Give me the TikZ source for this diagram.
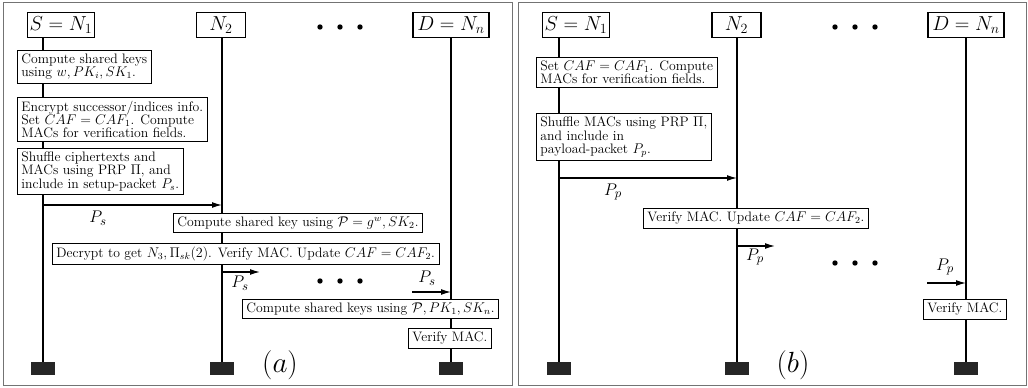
\documentclass[tikz,border=0pt]{standalone}
\usetikzlibrary{arrows.meta}
\begin{document}
\begin{tikzpicture}[x=0.03cm,y=-0.03cm,
    frame/.style={draw=black!55,line width=0.8pt},
    hdr/.style={draw,line width=1pt,fill=white,inner xsep=1.8pt,inner ysep=3.2pt,font=\fontsize{17}{17}\selectfont},
    act/.style={draw,line width=0.6pt,fill=white,align=left,anchor=north west,inner xsep=3.5pt,inner ysep=3pt,font=\fontsize{11.7}{11.4}\selectfont},
    foot/.style={fill=black!85,minimum width=21.3pt,minimum height=11.1pt,inner sep=0pt},
    life/.style={line width=1.4pt},
    msg/.style={line width=1pt,-{Latex[length=8.5pt,width=5pt]}},
    lbl/.style={inner sep=0pt,font=\fontsize{15}{15}\selectfont},
    subcap/.style={inner sep=0pt,font=\fontsize{23}{23}\selectfont}]
    \useasboundingbox (0,0) rectangle (1028,387);

    % Rahmen
    \draw[frame] (3,2) rectangle (512,385);
    \draw[frame] (518,2) rectangle (1026,385);

    % (a): Knoten und Lebenslinien
    \node[hdr] (hSa) at (61,25) {$S=N_1$};
    \node[hdr,minimum width=41.8pt] (hNa) at (221,25) {$N_2$};
    \node[hdr,minimum width=64.9pt] (hDa) at (451,25) {$D=N_n$};
    \node[foot] (fSa) at (43,368.5) {};
    \node[foot] (fNa) at (222,368.5) {};
    \node[foot] (fDa) at (451,368.5) {};
    \draw[life] (fSa) -- (fSa |- hSa.south);
    \draw[life] (fNa) -- (fNa |- hNa.south);
    \draw[life] (fDa) -- (fDa |- hDa.south);
    \foreach \x in {320,340,360} \fill (\x,27) circle (2.3pt);

    % (a): Schritte
    \node[act] (a1) at (17,50) {Compute shared keys\\ using $w,PK_i,SK_1$.};
    \node[act] (a2) at (17,97) {Encrypt successor/indices info.\\ Set $CAF=CAF_1$. Compute\\ MACs for verification fields.};
    \node[act] (a3) at (17,148) {Shuffle ciphertexts and\\ MACs using PRP $\Pi$, and\\ include in setup-packet $P_s$.};
    \coordinate (ma1) at (43,205);
    \coordinate (ma2) at (222,205);
    \draw[msg] (ma1) -- (ma2);
    \node[lbl] (pa1) at (98,218) {$P_s$};
    \node[act] (a4) at (173,213) {Compute shared key using $\mathcal{P}=g^w,SK_2$.};
    \node[act] (a5) at (52,243) {Decrypt to get $N_3,\Pi_{sk}(2)$. Verify MAC. Update $CAF=CAF_2$.};
    \coordinate (ma3) at (222,272);
    \coordinate (ma4) at (260,272);
    \draw[msg] (ma3) -- (ma4);
    \node[lbl] (pa2) at (240,283) {$P_s$};
    \foreach \x in {320,340,360} \fill (\x,281) circle (2.3pt);
    \coordinate (ma5) at (412,292);
    \coordinate (ma6) at (451,292);
    \draw[msg] (ma5) -- (ma6);
    \node[lbl] (pa3) at (427,278) {$P_s$};
    \node[act] (a6) at (242,299) {Compute shared keys using $\mathcal{P},PK_1,SK_n$.};
    \node[act] (a7) at (408,328) {Verify MAC.};
    \node[subcap] (capa) at (280,365) {$(a)$};

    % (b): Knoten und Lebenslinien
    \node[hdr] (hSb) at (576,25) {$S=N_1$};
    \node[hdr,minimum width=41.8pt] (hNb) at (736.5,25) {$N_2$};
    \node[hdr,minimum width=64.9pt] (hDb) at (966,25) {$D=N_n$};
    \node[foot] (fSb) at (559,368.5) {};
    \node[foot] (fNb) at (737,368.5) {};
    \node[foot] (fDb) at (966,368.5) {};
    \draw[life] (fSb) -- (fSb |- hSb.south);
    \draw[life] (fNb) -- (fNb |- hNb.south);
    \draw[life] (fDb) -- (fDb |- hDb.south);
    \foreach \x in {835,855,875} \fill (\x,27) circle (2.3pt);

    % (b): Schritte
    \node[act] (b1) at (536,57) {Set $CAF=CAF_1$. Compute\\ MACs for verification fields.};
    \node[act] (b2) at (536,113) {Shuffle MACs using PRP $\Pi$,\\ and include in\\ payload-packet $P_p$.};
    \coordinate (mb1) at (559,178);
    \coordinate (mb2) at (737,178);
    \draw[msg] (mb1) -- (mb2);
    \node[lbl] (pb1) at (613,192) {$P_p$};
    \node[act] (b3) at (643,208) {Verify MAC. Update $CAF=CAF_2$.};
    \coordinate (mb3) at (737,246);
    \coordinate (mb4) at (775,246);
    \draw[msg] (mb3) -- (mb4);
    \node[lbl] (pb2) at (755,257) {$P_p$};
    \foreach \x in {835,855,875} \fill (\x,263) circle (2.3pt);
    \coordinate (mb5) at (927,283);
    \coordinate (mb6) at (966,283);
    \draw[msg] (mb5) -- (mb6);
    \node[lbl] (pb3) at (945,267) {$P_p$};
    \node[act] (b4) at (923,299) {Verify MAC.};
    \node[subcap] (capb) at (793,365) {$(b)$};
\end{tikzpicture}
\end{document}
